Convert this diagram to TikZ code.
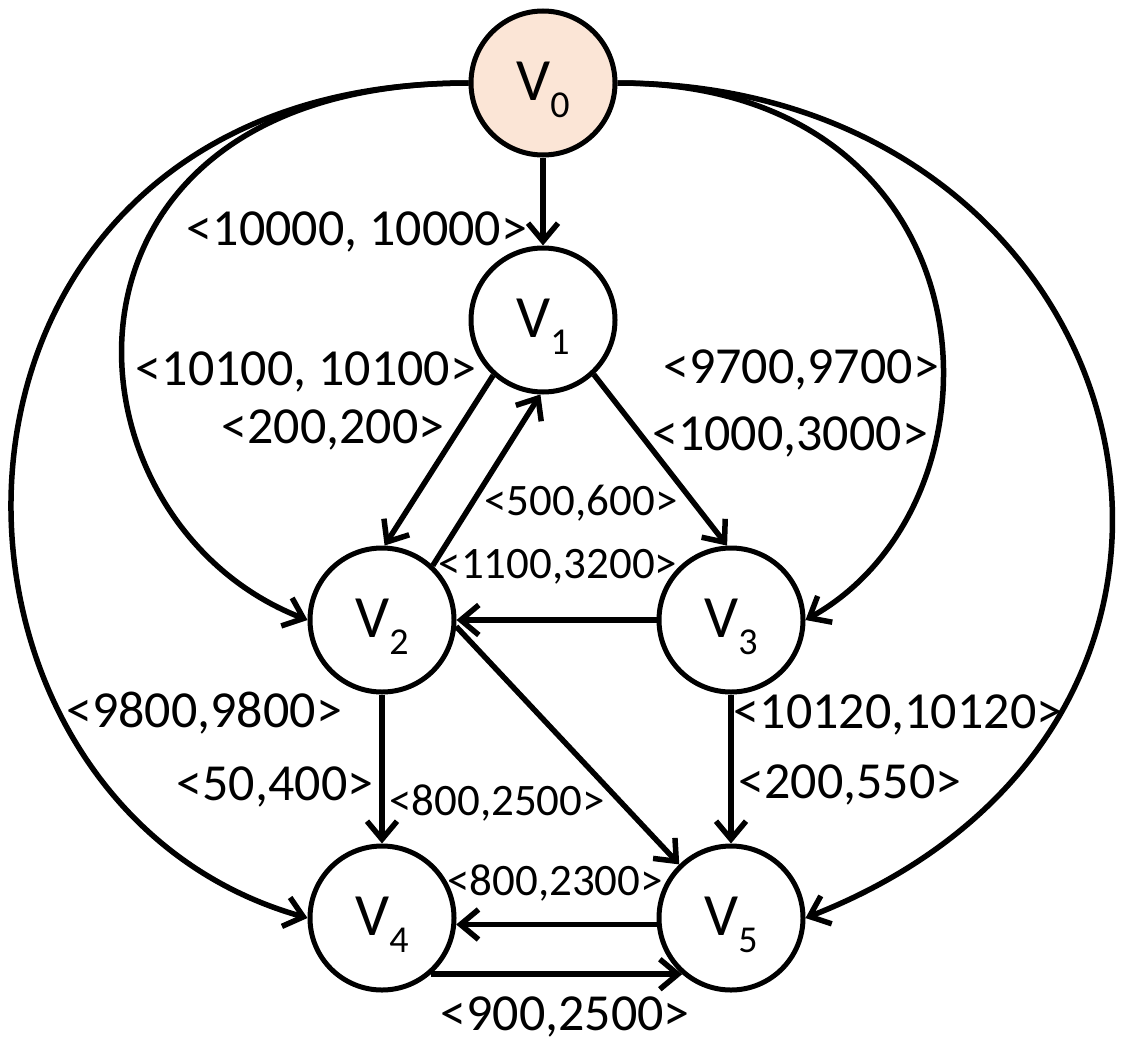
\documentclass[tikz,border=0pt]{standalone}
\usepackage{fontspec}
\setmainfont{Carlito}
\usetikzlibrary{arrows.meta}

\definecolor{peach}{RGB}{251,229,214}
\newcommand{\vsub}[1]{V\raisebox{-17pt}{\fontsize{38}{38}\selectfont #1}}

\tikzset{
  vertex/.style={circle, draw, line width=5pt, minimum size=144pt, inner sep=0pt,
    text depth=4pt, font=\fontsize{60}{60}\selectfont},
  edge/.style={line width=5.5pt, -{Straight Barb[length=18pt,width=30pt]}},
  costbig/.style={font=\fontsize{52}{52}\selectfont, inner sep=0pt},
  costsmall/.style={font=\fontsize{45}{45}\selectfont, inner sep=0pt}
}

\begin{document}
\begin{tikzpicture}[x=1pt,y=-1pt]
    \useasboundingbox (0,0) rectangle (1123,1046);

    % vertices
    \node[vertex, fill=peach] (v0) at (543,83) {\vsub{0}};
    \node[vertex] (v1) at (543,320) {\vsub{1}};
    \node[vertex] (v2) at (382,620) {\vsub{2}};
    \node[vertex] (v3) at (731,620) {\vsub{3}};
    \node[vertex] (v4) at (382,918) {\vsub{4}};
    \node[vertex] (v5) at (731,918) {\vsub{5}};

    % edges out of v0
    \draw[edge] (v0) -- (v1);
    \draw[edge] (v0.west) .. controls (25,83) and (50,520) .. (v2.west);
    \draw[edge] (v0.west) .. controls (-110,83) and (-110,800) .. (v4.west);
    \draw[edge] (v0.east) .. controls (1000,83) and (1020,500) .. (v3.east);
    \draw[edge] (v0.east) .. controls (1150,83) and (1310,720) .. (v5.east);

    % inner edges
    \draw[edge] (v1.228) -- (v2.88);
    \draw[edge] (v2.47) -- (v1.268);
    \draw[edge] (v1.313) -- (v3.93);
    \draw[edge] (v3) -- (v2);
    \draw[edge] (v2.355) -- (v5.134);
    \draw[edge] (v2) -- (v4);
    \draw[edge] (v3) -- (v5);
    \draw[edge] (v5.185) -- (v4.355);
    \draw[edge] (v4.311) -- (v5.229);

    % weights
    \node[costbig] (l01) at (357,232) {<10000, 10000>};
    \node[costbig] (l02) at (306,372) {<10100, 10100>};
    \node[costbig] (l12) at (333,430) {<200,200>};
    \node[costbig] (l03) at (801,370) {<9700,9700>};
    \node[costbig] (l13) at (790,437) {<1000,3000>};
    \node[costsmall] (l21) at (581,503) {<500,600>};
    \node[costsmall] (l32) at (558,567) {<1100,3200>};
    \node[costbig] (l04) at (204,713) {<9800,9800>};
    \node[costbig] (l24) at (275,787) {<50,400>};
    \node[costsmall] (l25) at (497,803) {<800,2500>};
    \node[costbig] (l05) at (898,715) {<10120,10120>};
    \node[costbig] (l35) at (850,785) {<200,550>};
    \node[costsmall] (l54) at (555,883) {<800,2300>};
    \node[costbig] (l45) at (565,1017) {<900,2500>};
\end{tikzpicture}
\end{document}
